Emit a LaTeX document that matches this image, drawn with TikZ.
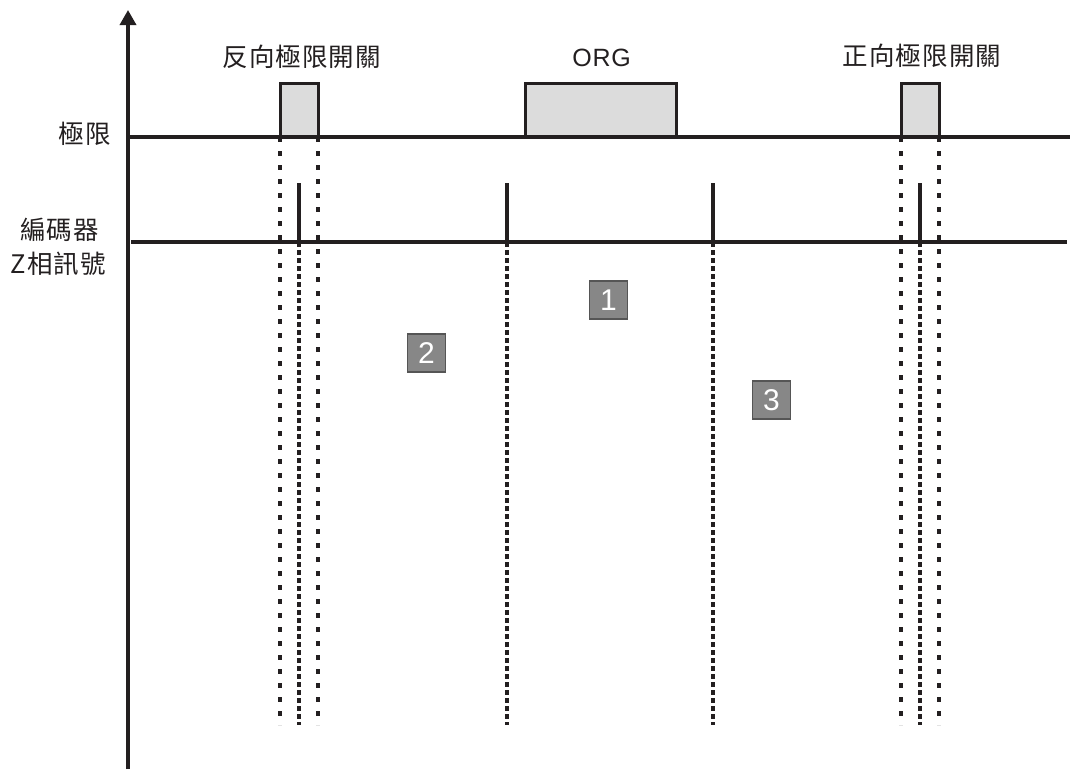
\documentclass[tikz,border=0pt]{standalone}
\usepackage{fontspec}
\setmainfont{Liberation Sans}
\newfontfamily\cjk[LetterSpace=4]{Noto Sans CJK TC}
\newfontfamily\latsp[LetterSpace=3]{Liberation Sans}
\usetikzlibrary{arrows.meta}
\definecolor{ink}{HTML}{231F20}
\definecolor{pulsefill}{HTML}{DCDCDC}
\definecolor{numfill}{HTML}{878787}
\definecolor{numline}{HTML}{555555}
\tikzset{
  mainline/.style={draw=ink, line width=3.2pt},
  axisline/.style={draw=ink, line width=3.4pt, -{Triangle[length=15pt,width=16pt]}},
  pulsebox/.style={draw=ink, fill=pulsefill, line width=3pt, inner sep=0pt, outer sep=0pt, anchor=south west},
  boundline/.style={draw=ink, line width=3.2pt, dash pattern=on 5pt off 9pt},
  denseline/.style={draw=ink, line width=3.2pt, dash pattern=on 5pt off 3pt},
  zpulse/.style={draw=ink, line width=3.2pt},
  cjklabel/.style={font=\cjk\fontsize{25.5pt}{30pt}\selectfont, text=ink, inner sep=0pt},
  latlabel/.style={font=\latsp\fontsize{25pt}{30pt}\selectfont, text=ink, inner sep=0pt},
  numbox/.style={draw=numline, fill=numfill, line width=1.4pt, minimum width=38pt, minimum height=38pt, inner sep=0pt, text=white, font=\fontsize{30pt}{32pt}\selectfont}
}
\begin{document}
\begin{tikzpicture}[x=1pt,y=-1pt]
\useasboundingbox (0,0) rectangle (1070,769);
% axis
\coordinate (ybot) at (128,769);
\coordinate (ytop) at (128,10);
\draw[axisline] (ybot) -- (ytop);
% baselines
\coordinate (limL) at (128,137);
\coordinate (limR) at (1070,137);
\coordinate (encL) at (131,242);
\coordinate (encR) at (1067,242);
\coordinate (bottom) at (0,725);
% limit boxes
\node[pulsebox, minimum width=38pt, minimum height=54pt] (rev) at (280,137) {};
\node[pulsebox, minimum width=151pt, minimum height=54pt] (org) at (525,137) {};
\node[pulsebox, minimum width=38pt, minimum height=54pt] (fwd) at (901,137) {};
\draw[mainline] (limL) -- (limR);
\draw[mainline] (encL) -- (encR);
% boundary dotted lines
\draw[boundline] (rev.south west) -- (rev.south west |- bottom);
\draw[boundline] (rev.south east) -- (rev.south east |- bottom);
\draw[boundline] (fwd.south west) -- (fwd.south west |- bottom);
\draw[boundline] (fwd.south east) -- (fwd.south east |- bottom);
% Z pulses
\coordinate (z1t) at (299,183); \coordinate (z1b) at (299,242);
\coordinate (z2t) at (507,183); \coordinate (z2b) at (507,242);
\coordinate (z3t) at (713,183); \coordinate (z3b) at (713,242);
\coordinate (z4t) at (920,183); \coordinate (z4b) at (920,242);
\foreach \z in {z1,z2,z3,z4}{
  \draw[zpulse] (\z t) -- (\z b);
  \draw[denseline] (\z b) -- (\z b |- bottom);
}
% labels
\node[cjklabel] (revlab) at (301.7,56.5) {反向極限開關};
\node[latlabel] (orglab) at (601.7,57.7) {ORG};
\node[cjklabel] (fwdlab) at (922,55.5) {正向極限開關};
\node[cjklabel] (limlab) at (85,134) {極限};
\node[cjklabel] (enclab) at (59.3,230) {編碼器};
\node[cjklabel] (zlab) at (58.3,264) {Z相訊號};
% numbered boxes
\node[numbox] (n1) at (608.5,300) {1};
\node[numbox] (n2) at (426.5,353) {2};
\node[numbox] (n3) at (771.5,400) {3};
\end{tikzpicture}
\end{document}
